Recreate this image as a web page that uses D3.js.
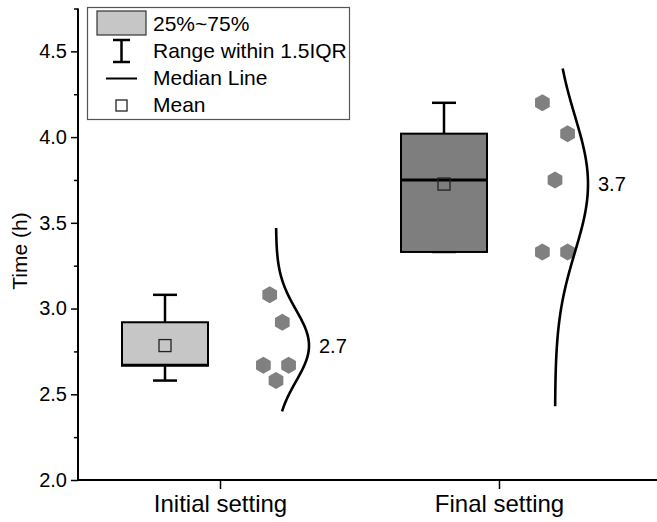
<!DOCTYPE html>
<html><head><meta charset="utf-8">
<script src="https://cdn.jsdelivr.net/npm/d3@7"></script>
<style>
html,body{margin:0;padding:0;background:#fff;}
svg{display:block;font-family:"Liberation Sans",Arial,sans-serif;}
</style></head>
<body><svg id="chart" width="657" height="522"></svg>
<script>
// ---- data ----
const categories = ["Initial setting", "Final setting"];
const initialValues = [3.08, 2.92, 2.67, 2.67, 2.58];
const finalValues = [4.20, 4.02, 3.75, 3.33, 3.33];
const seriesValues = [initialValues, finalValues];
// box stats: [q1, median, q3, whiskerLow, whiskerHigh]
const boxStats = [[2.67, 2.67, 2.92, 2.58, 3.08], [3.33, 3.75, 4.02, 3.33, 4.20]];
const curveRange = [[2.40, 3.47], [2.43, 4.40]];
const curveLabels = ["2.7", "3.7"];
const jitterInitial = [0.35, 0.65, 0.2, 0.8, 0.5];
const jitterFinal = [0.2, 0.8, 0.5, 0.2, 0.8];
const jitters = [jitterInitial, jitterFinal];
const yTicks = [2.0, 2.5, 3.0, 3.5, 4.0, 4.5];
const yMinorTicks = [2.25, 2.75, 3.25, 3.75, 4.25, 4.75];
const legendLabels = ["25%~75%", "Range within 1.5IQR", "Median Line", "Mean"];
const boxFills = ["#c6c6c6", "#7e7e7e"];

(function () {
// ---- layout ----
const svg = d3.select("#chart");
const mLeft = 78, mBottom = 480, mTop = 8.5, mRight = 657;
const y = d3.scaleLinear().domain([2.0, 4.75]).range([mBottom, mTop]);
const x = d3.scalePoint().domain(categories).range([220, 499]);

const boxOffset = -55, boxHalf = 43, capHalf = 12;
const rugStart = 35, rugWidth = 42, curveBase = 56, curveAmp = 33;

// axes
const yAxis = d3.axisLeft(y).tickValues(yTicks).tickFormat(d3.format(".1f")).tickSize(7).tickPadding(4);
const yg = svg.append("g").attr("transform", `translate(${mLeft},0)`).call(yAxis);
yg.select(".domain").remove();
yg.selectAll(".tick line").attr("stroke", "#000").attr("stroke-width", 1.5);
yg.selectAll(".tick text").attr("font-size", 20).attr("fill", "#000").attr("font-family", "Liberation Sans, Arial, sans-serif");
const yMinor = d3.axisLeft(y).tickValues(yMinorTicks).tickSize(4).tickFormat("");
const ymg = svg.append("g").attr("transform", `translate(${mLeft},0)`).call(yMinor);
ymg.select(".domain").remove();
ymg.selectAll(".tick line").attr("stroke", "#000").attr("stroke-width", 1.5);

const xAxis = d3.axisBottom(x).tickSize(9).tickPadding(6);
const xg = svg.append("g").attr("transform", `translate(0,${mBottom})`).call(xAxis);
xg.select(".domain").remove();
xg.selectAll(".tick line").attr("stroke", "#000").attr("stroke-width", 1.5);
xg.selectAll(".tick text").attr("font-size", 24).attr("fill", "#000").attr("font-family", "Liberation Sans, Arial, sans-serif");

svg.append("line").attr("x1", mLeft).attr("x2", mLeft).attr("y1", mTop).attr("y2", mBottom + 1)
  .attr("stroke", "#000").attr("stroke-width", 2);
svg.append("line").attr("x1", mLeft - 1).attr("x2", mRight).attr("y1", mBottom).attr("y2", mBottom)
  .attr("stroke", "#000").attr("stroke-width", 2);

svg.append("text").attr("transform", `translate(27,251) rotate(-90)`)
  .attr("text-anchor", "middle").attr("font-size", 21).text("Time (h)");

// boxes
categories.forEach((cat, i) => {
  const cx = x(cat) + boxOffset;
  const [q1, med, q3, wl, wh] = boxStats[i];
  const g = svg.append("g");
  g.append("line").attr("x1", cx).attr("x2", cx).attr("y1", y(q3)).attr("y2", y(wh)).attr("stroke", "#000").attr("stroke-width", 2.5);
  g.append("line").attr("x1", cx).attr("x2", cx).attr("y1", y(q1)).attr("y2", y(wl)).attr("stroke", "#000").attr("stroke-width", 2.5);
  g.append("line").attr("x1", cx - capHalf).attr("x2", cx + capHalf).attr("y1", y(wh)).attr("y2", y(wh)).attr("stroke", "#000").attr("stroke-width", 2.5);
  g.append("line").attr("x1", cx - capHalf).attr("x2", cx + capHalf).attr("y1", y(wl)).attr("y2", y(wl)).attr("stroke", "#000").attr("stroke-width", 2.5);
  g.append("rect").attr("x", cx - boxHalf).attr("y", y(q3)).attr("width", 2 * boxHalf).attr("height", y(q1) - y(q3))
    .attr("fill", boxFills[i]).attr("stroke", "#000").attr("stroke-width", 2);
  g.append("line").attr("x1", cx - boxHalf - 1).attr("x2", cx + boxHalf + 1).attr("y1", y(med)).attr("y2", y(med)).attr("stroke", "#000").attr("stroke-width", 3);
  const m = d3.mean(seriesValues[i]);
  g.append("rect").attr("x", cx - 6).attr("y", y(m) - 6).attr("width", 12).attr("height", 12)
    .attr("fill", "none").attr("stroke", "#222").attr("stroke-width", 1.3);
});

// hexagon points
function hexPath(r) {
  const pts = d3.range(6).map(k => {
    const a = Math.PI / 3 * k + Math.PI / 6;
    return [r * Math.cos(a), r * Math.sin(a)];
  });
  return "M" + pts.map(p => p.join(",")).join("L") + "Z";
}
categories.forEach((cat, i) => {
  seriesValues[i].forEach((v, j) => {
    const px = x(cat) + rugStart + jitters[i][j] * rugWidth;
    svg.append("path").attr("d", hexPath(8.5)).attr("transform", `translate(${px},${y(v)})`)
      .attr("fill", "#808080");
  });
});

// distribution curves
categories.forEach((cat, i) => {
  const vals = seriesValues[i];
  const mu = d3.mean(vals), sd = d3.deviation(vals);
  const base = x(cat) + curveBase;
  const [lo, hi] = curveRange[i];
  const steps = d3.range(0, 201).map(k => lo + (hi - lo) * k / 200);
  const line = d3.line().x(v => base + curveAmp * Math.exp(-0.5 * ((v - mu) / sd) ** 2)).y(v => y(v)).curve(d3.curveBasis);
  svg.append("path").attr("d", line(steps)).attr("fill", "none").attr("stroke", "#000").attr("stroke-width", 2.6);
  svg.append("text").attr("x", base + curveAmp + 10).attr("y", y(mu) + 7).attr("font-size", 20).text(curveLabels[i]);
});

// legend
const lg = svg.append("g");
lg.append("rect").attr("x", 87.5).attr("y", 7.5).attr("width", 262).attr("height", 112)
  .attr("fill", "#fff").attr("stroke", "#555").attr("stroke-width", 1.2);
lg.append("rect").attr("x", 97).attr("y", 11).attr("width", 49).attr("height", 24).attr("fill", "#c6c6c6").attr("stroke", "#333").attr("stroke-width", 1.2);
lg.append("line").attr("x1", 121.5).attr("x2", 121.5).attr("y1", 40).attr("y2", 62).attr("stroke", "#000").attr("stroke-width", 2.5);
lg.append("line").attr("x1", 113).attr("x2", 130).attr("y1", 40).attr("y2", 40).attr("stroke", "#000").attr("stroke-width", 2.5);
lg.append("line").attr("x1", 113).attr("x2", 130).attr("y1", 62).attr("y2", 62).attr("stroke", "#000").attr("stroke-width", 2.5);
lg.append("line").attr("x1", 106).attr("x2", 137).attr("y1", 78.5).attr("y2", 78.5).attr("stroke", "#000").attr("stroke-width", 2);
lg.append("rect").attr("x", 116).attr("y", 100).attr("width", 11).attr("height", 11).attr("fill", "none").attr("stroke", "#222").attr("stroke-width", 1.3);
const legendY = [31, 58, 85, 112];
legendLabels.forEach((t, k) => {
  lg.append("text").attr("x", 153).attr("y", legendY[k]).attr("font-size", 21).text(t);
});
})();
</script></body></html>
